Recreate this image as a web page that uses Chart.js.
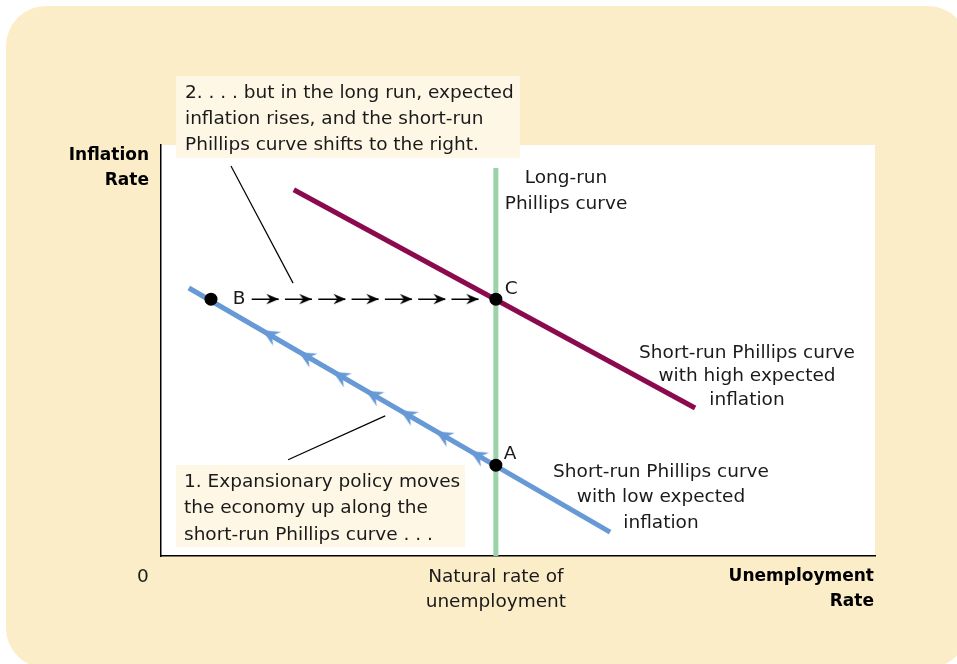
<!DOCTYPE html>
<html>
<head>
<meta charset="utf-8">
<script src="https://cdn.jsdelivr.net/npm/chart.js@4/dist/chart.umd.min.js"></script>
<style>
html,body{margin:0;padding:0;background:#ffffff;}
#wrap{width:957px;height:664px;position:relative;}
</style>
</head>
<body>
<div id="wrap"><canvas id="c" width="957" height="664"></canvas></div>
<script>
// ---- data (unitless positions on 0–100 axes) ----
const lrpcX = [46.9, 46.9];
const lrpcY = [0, 94.4];
const srpcLowX = [3.9, 62.9];
const srpcLowY = [65.2, 5.8];
const srpcHighX = [18.6, 74.8];
const srpcHighY = [89.1, 36.0];
const pointNames = ['A', 'B', 'C'];
const pointX = [46.9, 7.0, 46.9];
const pointY = [22.1, 62.5, 62.5];
const shiftArrowX = [16.5, 21.1, 25.9, 30.5, 35.2, 39.9, 44.5];
const shiftArrowY = [62.5, 62.5, 62.5, 62.5, 62.5, 62.5, 62.5];
const shiftLineX = [12.7, 44.5];
const shiftLineY = [62.5, 62.5];
const moveArrowX = [14.2, 19.3, 24.1, 28.7, 33.5, 38.5, 43.3];
const moveArrowY = [54.9, 49.6, 44.8, 40.2, 35.4, 30.3, 25.5];
const leader1X = [17.8, 31.4];
const leader1Y = [23.4, 34.1];
const leader2X = [9.8, 18.5];
const leader2Y = [94.9, 66.4];

const zip = (xs, ys) => xs.map((x, i) => ({x: x, y: ys[i]}));

const BLUE = '#6699d5';
const RED = '#8b0a4e';
const GREEN = '#9ad3a9';
const FONT = '"DejaVu Sans", sans-serif';

function arrowImage(color, len, half, notch, size) {
  const c = document.createElement('canvas');
  c.width = size; c.height = size;
  const g = c.getContext('2d');
  const m = size / 2;
  g.fillStyle = color;
  g.beginPath();
  g.moveTo(m, m);
  g.lineTo(m - len, m - half);
  g.lineTo(m - notch, m);
  g.lineTo(m - len, m + half);
  g.closePath();
  g.fill();
  return c;
}
const blackHead = arrowImage('#000000', 12.5, 5.3, 8.5, 28);
const blueHead = arrowImage(BLUE, 17, 8, 11, 40);

const decor = {
  id: 'decor',
  beforeDraw(chart) {
    const ctx = chart.ctx;
    const a = chart.chartArea;
    ctx.save();
    ctx.fillStyle = '#ffffff';
    ctx.fillRect(0, 0, chart.width, chart.height);
    ctx.fillStyle = '#fcedc9';
    ctx.beginPath();
    ctx.roundRect(6, 6, 962, 662, 40);
    ctx.fill();
    ctx.fillStyle = '#ffffff';
    ctx.fillRect(a.left, a.top, a.right - a.left, a.bottom - a.top);
    ctx.restore();
  },
  afterDatasetsDraw(chart) {
    const ctx = chart.ctx;
    const xs = chart.scales.x, ys = chart.scales.y;
    ctx.save();
    // callout boxes
    ctx.fillStyle = '#fef7e6';
    ctx.fillRect(176, 76, 344, 82);
    ctx.fillRect(176, 465, 289, 82);
    ctx.fillStyle = '#1a1a1a';
    ctx.textBaseline = 'middle';
    ctx.font = '18.5px ' + FONT;
    ctx.textAlign = 'left';
    ['2. . . . but in the long run, expected', 'inflation rises, and the short-run', 'Phillips curve shifts to the right.']
      .forEach((t, i) => ctx.fillText(t, 185, 93 + i * 26));
    ['1. Expansionary policy moves', 'the economy up along the', 'short-run Phillips curve . . .']
      .forEach((t, i) => ctx.fillText(t, 184, 482 + i * 26.5));
    // curve labels
    ctx.textAlign = 'center';
    ['Long-run', 'Phillips curve'].forEach((t, i) => ctx.fillText(t, 566, 178 + i * 26));
    ['Short-run Phillips curve', 'with high expected', 'inflation'].forEach((t, i) => ctx.fillText(t, 747, 353 + i * 23.5));
    ['Short-run Phillips curve', 'with low expected', 'inflation'].forEach((t, i) => ctx.fillText(t, 661, 472 + i * 25.5));
    ['Natural rate of', 'unemployment'].forEach((t, i) => ctx.fillText(t, xs.getPixelForValue(lrpcX[0]), 577 + i * 25));
    ctx.fillText('0', 143, 577);
    // point labels
    const offs = {A: [8, -11, 'left'], B: [28, 0, 'center'], C: [9, -10, 'left']};
    pointNames.forEach((n, i) => {
      const o = offs[n];
      ctx.textAlign = o[2];
      ctx.fillText(n, xs.getPixelForValue(pointX[i]) + o[0], ys.getPixelForValue(pointY[i]) + o[1]);
    });
    // axis titles
    ctx.font = 'bold 17px ' + FONT;
    ctx.fillStyle = '#000000';
    ctx.textAlign = 'right';
    ctx.fillText('Inflation', 149, 156);
    ctx.fillText('Rate', 149, 181);
    ctx.fillText('Unemployment', 874, 577);
    ctx.fillText('Rate', 874, 602);
    ctx.restore();
  }
};

new Chart(document.getElementById('c'), {
  type: 'scatter',
  data: {
    datasets: [
      { label: 'Points', data: zip(pointX, pointY), pointRadius: 6.5, pointBackgroundColor: '#000000', pointBorderWidth: 0, showLine: false },
      { label: 'Shift arrows', data: zip(shiftArrowX, shiftArrowY), pointStyle: blackHead, pointRadius: 5, showLine: false },
      { label: 'Move arrows', data: zip(moveArrowX, moveArrowY), pointStyle: blueHead, pointRadius: 5, rotation: 210, showLine: false },
      { label: 'Shift line', data: zip(shiftLineX, shiftLineY), showLine: true, borderColor: '#000000', borderWidth: 1.5, borderDash: [27, 6.3], pointRadius: 0 },
      { label: 'Leader 1', data: zip(leader1X, leader1Y), showLine: true, borderColor: '#000000', borderWidth: 1.2, pointRadius: 0 },
      { label: 'Leader 2', data: zip(leader2X, leader2Y), showLine: true, borderColor: '#000000', borderWidth: 1.2, pointRadius: 0 },
      { label: 'SRPC high', data: zip(srpcHighX, srpcHighY), showLine: true, borderColor: RED, borderWidth: 5, pointRadius: 0, borderCapStyle: 'butt' },
      { label: 'SRPC low', data: zip(srpcLowX, srpcLowY), showLine: true, borderColor: BLUE, borderWidth: 5, pointRadius: 0, borderCapStyle: 'butt' },
      { label: 'LRPC', data: zip(lrpcX, lrpcY), showLine: true, borderColor: GREEN, borderWidth: 5, pointRadius: 0, borderCapStyle: 'butt' }
    ]
  },
  options: {
    responsive: false,
    animation: false,
    events: [],
    layout: { padding: { left: 161, top: 145, right: 82, bottom: 108 } },
    plugins: { legend: { display: false }, tooltip: { enabled: false } },
    scales: {
      x: { type: 'linear', min: 0, max: 100,
           ticks: { display: false }, grid: { display: false, drawTicks: false },
           border: { display: true, color: '#000000', width: 1.5 } },
      y: { type: 'linear', min: 0, max: 100,
           ticks: { display: false }, grid: { display: false, drawTicks: false },
           border: { display: true, color: '#000000', width: 1.5 } }
    }
  },
  plugins: [decor]
});
</script>
</body>
</html>
